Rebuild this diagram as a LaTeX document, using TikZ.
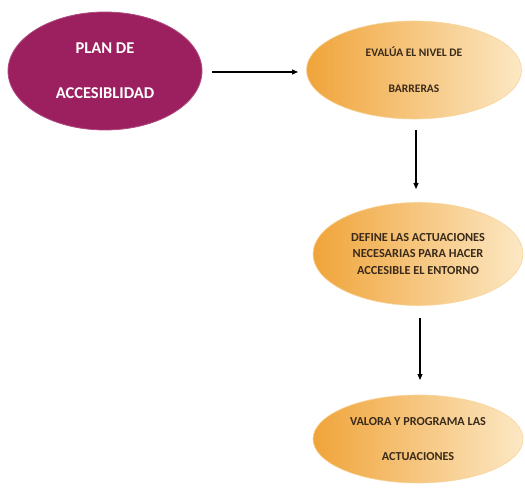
\documentclass[tikz,border=0pt]{standalone}
\usepackage{fontspec}
\setmainfont{Carlito}
\usetikzlibrary{shapes.geometric,arrows.meta}
\definecolor{plum}{HTML}{9C1F5F}
\definecolor{orng}{HTML}{F0A43A}
\definecolor{cream}{HTML}{FCE8C4}
\definecolor{txtdark}{HTML}{3A2A1A}
\tikzset{
  plannode/.style={ellipse, fill=plum, draw=plum!80!white, line width=0.8pt, text=white, font=\bfseries\fontsize{16.5}{45}\selectfont, align=center, inner sep=0pt},
  stepnode/.style={ellipse, left color=orng, right color=cream, draw=cream!70!orng, line width=0.6pt, text=txtdark, align=center, inner sep=0pt},
  conn/.style={-{Triangle[length=6pt,width=5pt]}, line width=1.1pt, black}
}
\begin{document}
\begin{tikzpicture}[x=1pt,y=-1pt]
\useasboundingbox (0,0) rectangle (525,489);
\node[plannode, minimum width=194pt, minimum height=118pt] (plan) at (105,71) {PLAN DE\\ACCESIBLIDAD};
\node[stepnode, minimum width=215pt, minimum height=98pt, font=\bfseries\fontsize{11.5}{36}\selectfont] (eval) at (414,70) {EVALÚA EL NIVEL DE\\BARRERAS};
\node[stepnode, minimum width=210pt, minimum height=103pt, font=\bfseries\fontsize{12.3}{16.5}\selectfont] (def) at (418,254) {DEFINE LAS ACTUACIONES\\NECESARIAS PARA HACER\\ACCESIBLE EL ENTORNO};
\node[stepnode, minimum width=210pt, minimum height=88pt, font=\bfseries\fontsize{12.2}{35}\selectfont] (val) at (418,439) {VALORA Y PROGRAMA LAS\\ACTUACIONES};
\coordinate (a1s) at (212,72);
\coordinate (a1e) at (298,72);
\draw[conn] (a1s) -- (a1e);
\coordinate (a2s) at (416,130);
\coordinate (a2e) at (416,189);
\draw[conn] (a2s) -- (a2e);
\coordinate (a3s) at (420,318);
\coordinate (a3e) at (420,380);
\draw[conn] (a3s) -- (a3e);
\end{tikzpicture}
\end{document}
